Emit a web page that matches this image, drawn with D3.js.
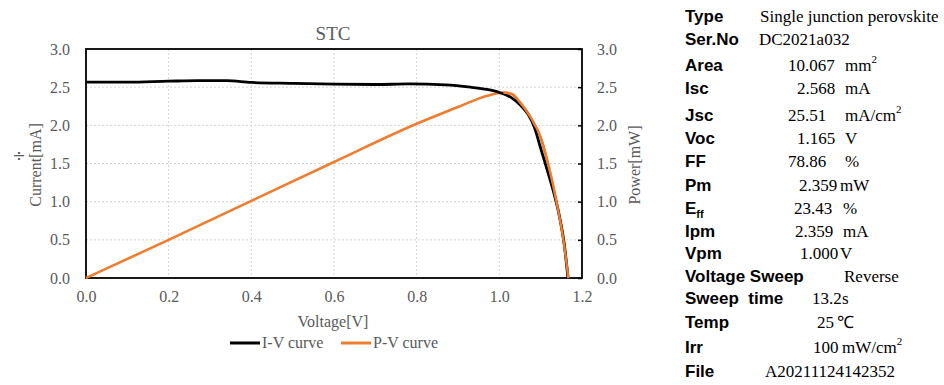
<!DOCTYPE html>
<html>
<head>
<meta charset="utf-8">
<script src="https://cdn.jsdelivr.net/npm/d3@7"></script>
<style>
  html, body { margin: 0; padding: 0; background: #fff; }
  svg { display: block; }
  text { white-space: pre; }
</style>
</head>
<body>
<svg id="chart" width="944" height="385"></svg>
<script>
// ---------- DATA ----------
const chartTitle = "STC";
const xTicks = [0.0, 0.2, 0.4, 0.6, 0.8, 1.0, 1.2];
const yTicks = [0.0, 0.5, 1.0, 1.5, 2.0, 2.5, 3.0];

const ivVoltage = [0, 0.1, 0.2, 0.27, 0.34, 0.4, 0.5, 0.6, 0.7, 0.78, 0.87, 0.93, 0.97, 1.0, 1.03, 1.05, 1.07, 1.085, 1.10, 1.115, 1.13, 1.145, 1.157, 1.166];
const ivCurrent = [2.565, 2.565, 2.578, 2.585, 2.585, 2.562, 2.55, 2.54, 2.535, 2.542, 2.53, 2.50, 2.47, 2.43, 2.36, 2.27, 2.14, 1.97, 1.70, 1.43, 1.15, 0.82, 0.45, 0.0];

const pvVoltage = [0, 0.2, 0.4, 0.6, 0.8, 0.9, 0.95, 0.98, 1.01, 1.03, 1.05, 1.075, 1.10, 1.12, 1.14, 1.155, 1.167];
const pvPower   = [0, 0.50, 1.01, 1.52, 2.02, 2.24, 2.35, 2.40, 2.43, 2.41, 2.30, 2.11, 1.84, 1.45, 0.95, 0.50, 0.0];

const seriesNames = ["I-V curve", "P-V curve"];
const xLabel = "Voltage[V]";
const yLeftLabel = "Current[mA]";
const yRightLabel = "Power[mW]";

const infoLabels  = ["Type", "Ser.No", "Area", "Isc", "Jsc", "Voc", "FF", "Pm", "E", "Ipm", "Vpm", "Voltage Sweep", "Sweep  time", "Temp", "Irr", "File"];
const infoNumbers = ["Single junction perovskite", "DC2021a032", "10.067", "2.568", "25.51", "1.165", "78.86", "2.359", "23.43", "2.359", "1.000", "Reverse", "13.2", "25", "100", "A20211124142352"];
const infoUnits   = ["", "", "mm", "mA", "mA/cm", "V", "%", "mW", "%", "mA", "V", "", "s", "℃", "mW/cm", ""];
const infoUnitSup = ["", "", "2", "", "2", "", "", "", "", "", "", "", "", "", "2", ""];

// ---------- LAYOUT ----------
const svg = d3.select("#chart");
const plot = { left: 86, right: 582, top: 49, bottom: 278 };
const grey = "#595959";
const serif = "'Liberation Serif', 'Times New Roman', serif";
const sans = "'Liberation Sans', Arial, sans-serif";

const x = d3.scaleLinear().domain([0, 1.2]).range([plot.left, plot.right]);
const yL = d3.scaleLinear().domain([0, 3]).range([plot.bottom, plot.top]);
const yR = d3.scaleLinear().domain([0, 3]).range([plot.bottom, plot.top]);

// gridlines
const grid = svg.append("g");
grid.selectAll("line.v").data(xTicks.filter(t => t > 0 && t < 1.2)).enter().append("line")
  .attr("x1", d => x(d)).attr("x2", d => x(d))
  .attr("y1", plot.top).attr("y2", plot.bottom)
  .attr("stroke", "#d4d4d4").attr("stroke-width", 1).attr("stroke-dasharray", "2,2");
grid.selectAll("line.h").data(yTicks.filter(t => t > 0 && t < 3)).enter().append("line")
  .attr("x1", plot.left).attr("x2", plot.right)
  .attr("y1", d => yL(d)).attr("y2", d => yL(d))
  .attr("stroke", "#d4d4d4").attr("stroke-width", 1).attr("stroke-dasharray", "2,2");

// axes
const fmt = d3.format(".1f");
const xAxis = svg.append("g").attr("transform", `translate(0,${plot.bottom})`)
  .call(d3.axisBottom(x).tickValues(xTicks).tickFormat(fmt).tickSize(0).tickPadding(13));
const yAxisL = svg.append("g").attr("transform", `translate(${plot.left},0)`)
  .call(d3.axisLeft(yL).tickValues(yTicks).tickFormat(fmt).tickSize(0).tickPadding(16));
const yAxisR = svg.append("g").attr("transform", `translate(${plot.right},0)`)
  .call(d3.axisRight(yR).tickValues(yTicks).tickFormat(fmt).tickSize(-4).tickPadding(15));
[xAxis, yAxisL, yAxisR].forEach(a => {
  a.select(".domain").remove();
  a.selectAll("text").attr("font-family", serif).attr("font-size", 16).attr("fill", grey);
  a.selectAll("line").attr("stroke", "#000").attr("stroke-width", 1.5);
});

// plot frame
svg.append("rect")
  .attr("x", plot.left).attr("y", plot.top)
  .attr("width", plot.right - plot.left).attr("height", plot.bottom - plot.top)
  .attr("fill", "none").attr("stroke", "#000").attr("stroke-width", 1.8);

// lines
const ivData = ivVoltage.map((v, i) => [v, ivCurrent[i]]);
const pvData = pvVoltage.map((v, i) => [v, pvPower[i]]);
const ivLine = d3.line().x(d => x(d[0])).y(d => yL(d[1])).curve(d3.curveMonotoneX);
const pvLine = d3.line().x(d => x(d[0])).y(d => yR(d[1])).curve(d3.curveMonotoneX);

svg.append("path").datum(pvData).attr("d", pvLine)
  .attr("fill", "none").attr("stroke", "#ED7D31").attr("stroke-width", 2.6).attr("stroke-linejoin", "round");
svg.append("path").datum(ivData).attr("d", ivLine)
  .attr("fill", "none").attr("stroke", "#000").attr("stroke-width", 2.8).attr("stroke-linejoin", "round");
// orange drawn again over the steep portion, as in the reference
svg.append("path").datum(pvData.filter(d => d[0] >= 1.0)).attr("d", pvLine)
  .attr("fill", "none").attr("stroke", "#ED7D31").attr("stroke-width", 2.4).attr("stroke-linejoin", "round");

// title
svg.append("text").attr("x", 333).attr("y", 40).attr("text-anchor", "middle")
  .attr("font-family", serif).attr("font-size", 19).attr("fill", grey).text(chartTitle);

// axis labels
svg.append("text").attr("x", 333).attr("y", 327).attr("text-anchor", "middle")
  .attr("font-family", serif).attr("font-size", 16).attr("fill", grey).text(xLabel);
svg.append("text").attr("transform", "translate(41,165) rotate(-90)").attr("text-anchor", "middle")
  .attr("font-family", serif).attr("font-size", 16).attr("fill", grey).text(yLeftLabel);
svg.append("text").attr("x", 19).attr("y", 161).attr("text-anchor", "middle")
  .attr("font-family", "'DejaVu Sans', sans-serif").attr("font-size", 16).attr("fill", grey).text("÷");
svg.append("text").attr("transform", "translate(640,165) rotate(-90)").attr("text-anchor", "middle")
  .attr("font-family", serif).attr("font-size", 16).attr("fill", grey).text(yRightLabel);

// legend
const legendColors = ["#000", "#ED7D31"];
const legendX = [230, 341];
seriesNames.forEach((name, i) => {
  svg.append("line").attr("x1", legendX[i]).attr("x2", legendX[i] + 30)
    .attr("y1", 343).attr("y2", 343).attr("stroke", legendColors[i]).attr("stroke-width", 3);
  svg.append("text").attr("x", legendX[i] + 32).attr("y", 348)
    .attr("font-family", serif).attr("font-size", 16).attr("fill", grey).text(name);
});

// ---------- INFO PANEL ----------
const baselines = [22, 45, 71, 94, 121, 144, 167, 191, 214, 237, 259, 282, 304, 328, 353, 377];
const numX = [760, 759, 788, 797, 788, 797, 788, 799, 794, 795, 800, 844, 812, 817, 813, 765];
const unitX = [0, 0, 845, 845, 845, 845, 845, 840, 843, 843, 840, 0, 842, 837, 842, 0];
const panel = svg.append("g");
infoLabels.forEach((lab, i) => {
  const t = panel.append("text").attr("x", 685).attr("y", baselines[i])
    .attr("font-family", sans).attr("font-weight", "bold").attr("font-size", 17).attr("fill", "#000");
  t.append("tspan").text(lab);
  if (lab === "E") {
    t.append("tspan").attr("font-size", 11).attr("dy", 4).text("ff");
  }
  panel.append("text").attr("x", numX[i]).attr("y", baselines[i])
    .attr("font-family", serif).attr("font-size", 17).attr("fill", "#000").text(infoNumbers[i]);
  if (infoUnits[i]) {
    const u = panel.append("text").attr("x", unitX[i]).attr("y", baselines[i])
      .attr("font-family", serif).attr("font-size", 17).attr("fill", "#000");
    u.append("tspan").text(infoUnits[i]);
    if (infoUnitSup[i]) u.append("tspan").attr("font-size", 11).attr("dy", -8).text(infoUnitSup[i]);
  }
});
</script>
</body>
</html>
